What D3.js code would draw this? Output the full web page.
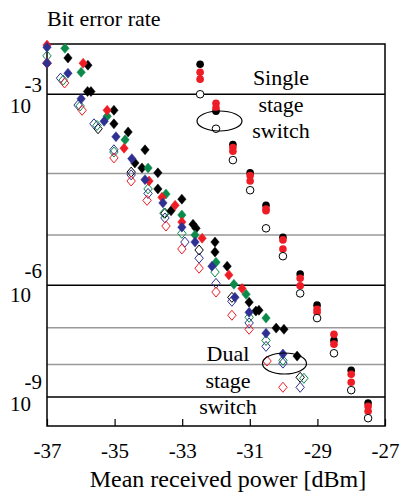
<!DOCTYPE html>
<html>
<head>
<meta charset="utf-8">
<script src="https://cdn.jsdelivr.net/npm/d3@7"></script>
<style>
  body { margin: 0; background: #fff; }
  svg text { font-family: "Liberation Serif", serif !important; fill: #000; }
</style>
</head>
<body>
<script>
// x = mean received power [dBm], y = log10(BER)
var xTicks = [-37, -35, -33, -31, -29, -27];
var gridExps = [-3, -4, -5, -6, -7, -8, -9];
var labelExps = [-3, -6, -9];

// dual stage switch, diamonds
var dualBlack = [[-36.38,-2.63],[-35.79,-2.70],[-35.80,-2.97],[-35.70,-2.97],[-35.02,-3.18],[-35.02,-3.34],[-34.60,-3.44],
  [-34.10,-3.67],[-34.40,-3.85],[-34.19,-3.92],[-33.72,-3.99],[-33.72,-4.23],[-33.01,-4.39],[-33.33,-4.58],[-32.68,-4.81],
  [-32.59,-4.88],[-32.03,-5.13],[-32.03,-5.32],[-31.67,-5.60],[-31.02,-6.38],[-30.82,-6.59],[-30.73,-6.57],[-30.22,-7.01],
  [-29.99,-7.04],[-29.60,-7.76]];
var dualGreen = [[-36.47,-2.54],[-35.99,-2.77],[-35.22,-3.25],[-34.69,-3.54],[-34.01,-3.92],[-33.48,-4.31],[-33.01,-4.65],
  [-32.62,-5.00],[-32.00,-5.52],[-31.47,-5.98],[-31.11,-6.20],[-30.52,-6.76]];
var dualRed = [[-37.00,-2.51],[-35.93,-2.68],[-35.22,-3.18],[-34.72,-3.65],[-33.98,-4.11],[-33.60,-4.36],[-33.21,-4.49],
  [-33.01,-4.77],[-32.41,-5.06],[-31.62,-5.78],[-31.23,-6.07]];
var dualNavy = [[-37.00,-2.53],[-37.00,-2.68],[-36.38,-2.78],[-35.99,-3.05],[-35.31,-3.31],[-34.96,-3.50],[-34.49,-3.79],
  [-34.10,-4.09],[-33.57,-4.45],[-33.01,-4.86],[-32.62,-5.13],[-32.12,-5.60],[-31.44,-6.27],[-31.02,-6.62],[-30.52,-7.14],
  [-30.02,-7.70]];
var dualBlackOpen = [[-35.49,-3.40],[-34.51,-3.98],[-33.51,-4.62],[-32.50,-5.28],[-31.53,-6.27],[-29.51,-8.38]];
var dualGreenOpen = [[-37.00,-2.61],[-36.52,-2.85],[-36.02,-3.13],[-35.52,-3.36],[-35.02,-3.70],[-34.01,-4.23],[-33.54,-4.62],
  [-33.01,-4.97],[-32.03,-5.72],[-31.02,-6.74],[-30.52,-7.33],[-30.02,-7.88],[-29.40,-8.41]];
var dualNavyOpen = [[-37.00,-2.68],[-36.60,-2.83],[-36.08,-3.12],[-35.61,-3.34],[-35.02,-3.67],[-34.51,-4.02],[-34.01,-4.30],
  [-33.51,-4.70],[-32.92,-5.13],[-32.50,-5.44],[-32.00,-5.96],[-31.53,-6.36],[-31.02,-6.88],[-30.52,-7.49],[-30.02,-7.96],
  [-29.51,-8.69]];
var dualRedOpen = [[-37.00,-2.68],[-36.48,-2.88],[-35.96,-3.18],[-35.02,-3.78],[-34.51,-4.11],[-34.04,-4.41],[-33.48,-4.84],
  [-33.01,-5.26],[-32.50,-5.64],[-32.00,-6.15],[-31.53,-6.69],[-31.02,-7.04],[-30.49,-7.90],[-30.02,-8.69]];

// single stage switch, circles
var singlePower = [-32.47, -32.0, -31.5, -30.99, -30.52, -30.02, -29.51, -29.01, -28.51, -28.0, -27.5];
var singleBlack = [-2.69, -3.19, -3.60, -3.99, -4.49, -5.04, -5.76, -6.45, -7.33, -8.17, -9.20];
var singleRedA = [-2.77, -3.10, -3.64, -4.03, -4.55, -5.09, -5.85, -6.55, -7.17, -8.29, -9.31];
var singleRedB = [-2.84, -3.15, -3.69, -4.11, -4.58, -5.26, -6.01, -6.62, -7.43, -8.53, -9.48];
var singleOpen = [-3.00, -3.40, -3.81, -4.25, -4.88, -5.40, -6.18, -6.76, -7.68, -8.78, -9.72];

var width = 401, height = 493;
var margin = { top: 44, right: 16, bottom: 67, left: 47 };
var serif = "Liberation Serif";

var svg = d3.select("body").append("svg")
  .attr("width", width)
  .attr("height", height)
  .attr("font-family", serif);

var x = d3.scaleLinear().domain([-37, -27]).range([margin.left, width - margin.right]);
// BER axis: log of -log10(BER)
var yLog = d3.scaleLog().domain([2.5, 10]).range([margin.top, height - margin.bottom]);
var y = function (e) { return yLog(-e); };

var x0 = x.range()[0], x1 = x.range()[1];

// grid lines
svg.append("g").selectAll("line")
  .data(gridExps)
  .enter().append("line")
  .attr("x1", x0).attr("x2", x1)
  .attr("y1", function (d) { return y(d); })
  .attr("y2", function (d) { return y(d); })
  .style("stroke", function (d) { return labelExps.indexOf(d) >= 0 ? "#000" : "#999"; })
  .style("stroke-width", 1.5);

// frame
svg.append("rect")
  .attr("x", x0).attr("y", margin.top)
  .attr("width", x1 - x0).attr("height", height - margin.bottom - margin.top)
  .style("fill", "none").style("stroke", "#000").style("stroke-width", 1.5);

// x axis: inner ticks + labels
var xAxis = svg.append("g")
  .attr("transform", "translate(0," + (height - margin.bottom) + ")")
  .call(d3.axisBottom(x).tickValues(xTicks).tickSizeInner(-7).tickSizeOuter(0).tickPadding(17).tickFormat(d3.format("d")));
xAxis.attr("font-family", serif).attr("font-size", 21);
xAxis.select(".domain").remove();
xAxis.selectAll("line").style("stroke", "#000").style("stroke-width", 1.2);
xAxis.selectAll("text")
  .attr("font-family", serif)
  .text(function (d) { return String(d); });

svg.append("text")
  .attr("x", 228).attr("y", 487)
  .attr("text-anchor", "middle")
  .style("font-size", "24px")
  .text("Mean received power [dBm]");

svg.append("text")
  .attr("x", 47).attr("y", 26)
  .style("font-size", "22px")
  .text("Bit error rate");

// y labels: "10" with its exponent above-right
var labelShift = { "-3": [-2, 19], "-6": [-7, 17], "-9": [-8, 14] };
var yl = svg.append("g").selectAll("g")
  .data(labelExps)
  .enter().append("g");
yl.append("text")
  .attr("x", 42).attr("y", function (d) { return y(d) + labelShift[d][0]; })
  .attr("text-anchor", "end")
  .style("font-size", "21px")
  .text(function (d) { return String(d); });
yl.append("text")
  .attr("x", 10).attr("y", function (d) { return y(d) + labelShift[d][1]; })
  .style("font-size", "21px")
  .text("10");

var diamond = "M0,-5L4.2,0L0,5L-4.2,0Z";

function drawDiamonds(data, color, filled) {
  svg.append("g").selectAll("path")
    .data(data)
    .enter().append("path")
    .attr("d", diamond)
    .attr("transform", function (d) { return "translate(" + x(d[0]) + "," + y(d[1]) + ")"; })
    .style("fill", filled ? color : "none")
    .style("stroke", color)
    .style("stroke-width", filled ? 0.5 : 1);
}

drawDiamonds(dualBlackOpen, "#000", false);
drawDiamonds(dualNavyOpen, "#2e3192", false);
drawDiamonds(dualGreenOpen, "#0b8a4b", false);
drawDiamonds(dualRedOpen, "#ee1c25", false);
drawDiamonds(dualBlack, "#000", true);
drawDiamonds(dualGreen, "#0b8a4b", true);
drawDiamonds(dualRed, "#ee1c25", true);
drawDiamonds(dualNavy, "#2e3192", true);

function drawCircles(vals, color, filled) {
  svg.append("g").selectAll("circle")
    .data(vals)
    .enter().append("circle")
    .attr("cx", function (d, i) { return x(singlePower[i]); })
    .attr("cy", function (d) { return y(d); })
    .attr("r", 3.8)
    .style("fill", filled ? color : "#fff")
    .style("stroke", filled ? "none" : "#000")
    .style("stroke-width", 1);
}

drawCircles(singleBlack, "#000", true);
drawCircles(singleRedA, "#ee1c25", true);
drawCircles(singleRedB, "#ee1c25", true);
drawCircles(singleOpen, "#000", false);

// annotations
var notes = [
  { x: 281, lines: ["Single", "stage", "switch"], y0: 85 },
  { x: 228, lines: ["Dual", "stage", "switch"], y0: 361 }
];
notes.forEach(function (n) {
  n.lines.forEach(function (t, i) {
    svg.append("text")
      .attr("x", n.x).attr("y", n.y0 + i * 26.5)
      .attr("text-anchor", "middle")
      .style("font-size", "22px")
      .text(t);
  });
});

svg.append("ellipse")
  .attr("cx", 219.5).attr("cy", 121).attr("rx", 22.5).attr("ry", 10)
  .style("fill", "none").style("stroke", "#000").style("stroke-width", 1.2);
svg.append("ellipse")
  .attr("cx", 284.5).attr("cy", 363.5).attr("rx", 22).attr("ry", 10.5)
  .style("fill", "none").style("stroke", "#000").style("stroke-width", 1.2);
</script>
</body>
</html>
